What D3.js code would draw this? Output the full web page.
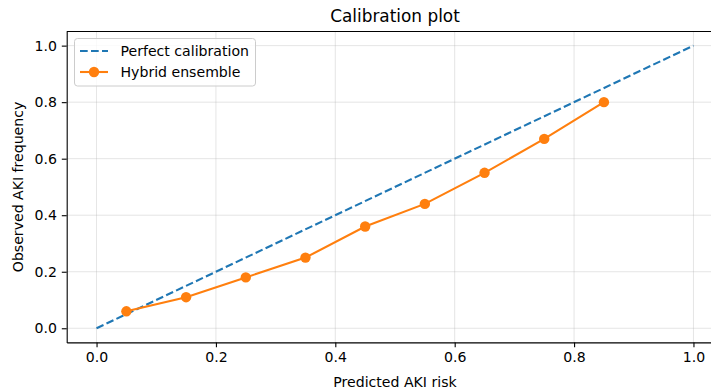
<!DOCTYPE html>
<html>
<head>
<meta charset="utf-8">
<script src="https://cdn.jsdelivr.net/npm/d3@7"></script>
<style>
  body { margin: 0; background: #fff; }
  svg { display: block; font-family: 'DejaVu Sans', sans-serif; }
</style>
</head>
<body>
<div id="chart"></div>
<script>
// Binned predicted risk vs observed frequency
const predictedRisk = [0.05, 0.15, 0.25, 0.35, 0.45, 0.55, 0.65, 0.75, 0.85];
const observedFreq = [0.06, 0.11, 0.18, 0.25, 0.36, 0.44, 0.55, 0.67, 0.80];
const perfectLine = [0, 1];
const tickValues = [0, 0.2, 0.4, 0.6, 0.8, 1.0];

const width = 711;
const height = 392;
// axes box runs past the right edge of the picture, as in the reference
const margin = { left: 66.7, right: -12.3, top: 31.5, bottom: 49.6 };

const svg = d3.select('#chart')
  .append('svg')
  .attr('width', width)
  .attr('height', height);

const xscale = d3.scaleLinear()
  .domain([-0.05, 1.05])
  .range([margin.left, width - margin.right]);

const yscale = d3.scaleLinear()
  .domain([-0.05, 1.05])
  .range([height - margin.bottom, margin.top]);

// grid
const grid = svg.append('g').attr('stroke', '#b0b0b0').attr('stroke-opacity', 0.42).attr('stroke-width', 0.8);
tickValues.forEach((t) => {
  grid.append('line')
    .attr('x1', xscale(t)).attr('x2', xscale(t))
    .attr('y1', yscale(-0.05)).attr('y2', yscale(1.05));
  grid.append('line')
    .attr('y1', yscale(t)).attr('y2', yscale(t))
    .attr('x1', xscale(-0.05)).attr('x2', xscale(1.05));
});

// axes
const fmt = d3.format('.1f');
const xAxis = svg.append('g')
  .attr('transform', `translate(0, ${yscale(-0.05)})`)
  .call(d3.axisBottom(xscale).tickValues(tickValues).tickFormat(fmt).tickSize(4.9).tickPadding(4.9).tickSizeOuter(0));

const yAxis = svg.append('g')
  .attr('transform', `translate(${xscale(-0.05)}, 0)`)
  .call(d3.axisLeft(yscale).tickValues(tickValues).tickFormat(fmt).tickSize(4.9).tickPadding(4.9).tickSizeOuter(0));

[xAxis, yAxis].forEach((ax) => {
  ax.selectAll('text').style('font-size', '14.1px').attr('fill', '#000');
  ax.selectAll('line').attr('stroke', '#000').attr('stroke-width', 1.1);
  ax.select('.domain').attr('stroke', '#000').attr('stroke-width', 1.1);
  ax.attr('font-family', null);
});

// top spine
svg.append('line')
  .attr('x1', xscale(-0.05)).attr('x2', xscale(1.05))
  .attr('y1', yscale(1.05)).attr('y2', yscale(1.05))
  .attr('stroke', '#000').attr('stroke-width', 1.1);

// perfect calibration
const line = d3.line().x((d) => xscale(d[0])).y((d) => yscale(d[1]));
svg.append('path')
  .attr('d', line(perfectLine.map((v) => [v, v])))
  .attr('fill', 'none')
  .attr('stroke', '#1f77b4')
  .attr('stroke-width', 2.1)
  .attr('stroke-dasharray', '7.7,3.3');

// hybrid ensemble
const pts = predictedRisk.map((x, i) => [x, observedFreq[i]]);
svg.append('path')
  .attr('d', line(pts))
  .attr('fill', 'none')
  .attr('stroke', '#ff7f0e')
  .attr('stroke-width', 2.1);

svg.selectAll('circle.pt')
  .data(pts)
  .enter()
  .append('circle')
  .attr('class', 'pt')
  .attr('cx', (d) => xscale(d[0]))
  .attr('cy', (d) => yscale(d[1]))
  .attr('r', 5.2)
  .attr('fill', '#ff7f0e');

// labels
svg.append('text')
  .attr('x', (xscale(-0.05) + xscale(1.05)) / 2)
  .attr('y', 22)
  .attr('text-anchor', 'middle')
  .style('font-size', '16.9px')
  .text('Calibration plot');

svg.append('text')
  .attr('x', (xscale(-0.05) + xscale(1.05)) / 2)
  .attr('y', 387)
  .attr('text-anchor', 'middle')
  .style('font-size', '14.1px')
  .text('Predicted AKI risk');

svg.append('text')
  .attr('transform', `translate(23, ${(yscale(-0.05) + yscale(1.05)) / 2}) rotate(-90)`)
  .attr('text-anchor', 'middle')
  .style('font-size', '14.1px')
  .text('Observed AKI frequency');

// legend
const legend = svg.append('g').attr('transform', 'translate(74.5, 38.5)');
legend.append('rect')
  .attr('width', 181).attr('height', 47.5).attr('rx', 3)
  .attr('fill', '#fff').attr('fill-opacity', 0.8)
  .attr('stroke', '#ccc').attr('stroke-width', 1);

legend.append('line')
  .attr('x1', 5.5).attr('x2', 33.5).attr('y1', 12.5).attr('y2', 12.5)
  .attr('stroke', '#1f77b4').attr('stroke-width', 2.1).attr('stroke-dasharray', '7.7,3.3');
legend.append('text').attr('x', 46).attr('y', 17.5).style('font-size', '14.1px').text('Perfect calibration');

legend.append('line')
  .attr('x1', 5.5).attr('x2', 33.5).attr('y1', 33.5).attr('y2', 33.5)
  .attr('stroke', '#ff7f0e').attr('stroke-width', 2.1);
legend.append('circle').attr('cx', 19.5).attr('cy', 33.5).attr('r', 5.2).attr('fill', '#ff7f0e');
legend.append('text').attr('x', 46).attr('y', 38.5).style('font-size', '14.1px').text('Hybrid ensemble');
</script>
</body>
</html>
